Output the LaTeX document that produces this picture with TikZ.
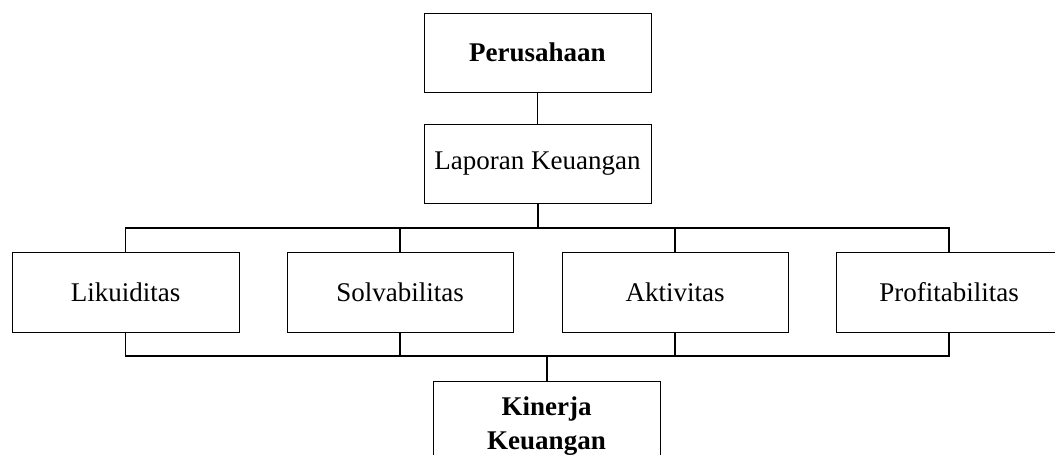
\documentclass[tikz,border=0pt]{standalone}
\usepackage{fontspec}
\setmainfont{Liberation Serif}
\begin{document}
\begin{tikzpicture}[x=1pt,y=-1pt,
  box/.style={draw, line width=1pt, inner sep=0pt, minimum width=227pt, minimum height=79pt, align=center, font=\fontsize{27}{34}\selectfont},
  boldbox/.style={box, font=\fontsize{27}{34}\selectfont\bfseries},
  link/.style={line width=1.3pt},
  trunk/.style={line width=2pt}]
\useasboundingbox (0,0) rectangle (1055,455);
\clip (0,0) rectangle (1055,455);
\node[boldbox] (per) at (537.5,52.5) {Perusahaan};
\node[box] (lap) at (537.5,163.5) {Laporan Keuangan};
\node[box, minimum height=80pt] (lik) at (125.5,292) {Likuiditas};
\node[box, minimum height=80pt, minimum width=226pt] (sol) at (400,292) {Solvabilitas};
\node[box, minimum height=80pt, minimum width=226pt] (akt) at (675,292) {Aktivitas};
\node[box, draw=none, minimum height=80pt, minimum width=226pt] (pro) at (949,292) {Profitabilitas};
\draw[line width=1pt] (1080,252) -| (836,332) -- (1080,332);
\node[boldbox, minimum height=90pt] (kin) at (546.5,426) {Kinerja\\Keuangan};
\coordinate (tj) at (537.5,228);
\coordinate (bj) at (546.5,356);
\draw[link] (per.south) -- (lap.north);
\draw[trunk] (lap.south) -- (tj);
\draw[link] (lik.north) |- (tj) -| (pro.north);
\draw[link] (sol.north) -- (sol.north |- tj);
\draw[link] (akt.north) -- (akt.north |- tj);
\draw[link] (lik.south) |- (bj) -| (pro.south);
\draw[link] (sol.south) -- (sol.south |- bj);
\draw[link] (akt.south) -- (akt.south |- bj);
\draw[trunk] (bj) -- (kin.north);
\end{tikzpicture}
\end{document}
